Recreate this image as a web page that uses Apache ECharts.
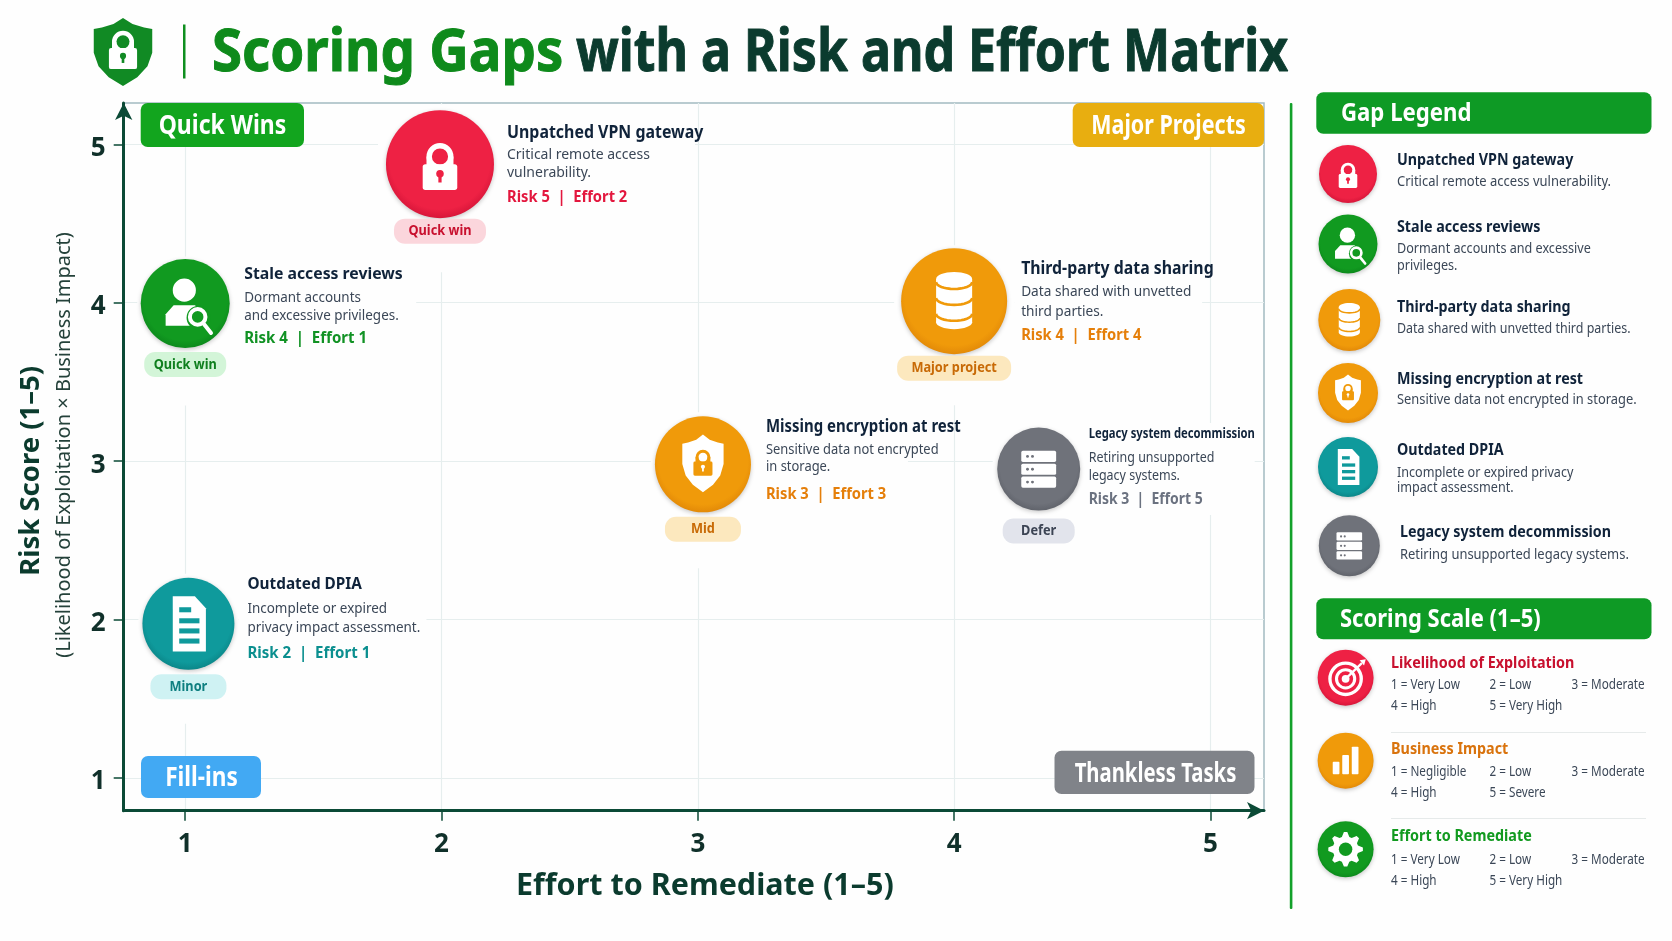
<!DOCTYPE html>
<html><head><meta charset="utf-8"><style>html,body{margin:0;padding:0;background:#fefefe}#c{width:1672px;height:941px}</style>
<script src="https://cdn.jsdelivr.net/npm/echarts@6/dist/echarts.min.js"></script></head>
<body><div id="c"></div>
<script>
// ---------- data ----------
const gapNames = ['Unpatched VPN gateway','Stale access reviews','Third-party data sharing','Missing encryption at rest','Outdated DPIA','Legacy system decommission'];
const chartDesc = [['Critical remote access','vulnerability.'],['Dormant accounts','and excessive privileges.'],['Data shared with unvetted','third parties.'],['Sensitive data not encrypted','in storage.'],['Incomplete or expired','privacy impact assessment.'],['Retiring unsupported','legacy systems.']];
const legendDesc = [['Critical remote access vulnerability.'],['Dormant accounts and excessive','privileges.'],['Data shared with unvetted third parties.'],['Sensitive data not encrypted in storage.'],['Incomplete or expired privacy','impact assessment.'],['Retiring unsupported legacy systems.']];
const riskScores = [5,4,4,3,2,3];
const effortScores = [2,1,4,3,1,5];
const markerEffort = [1.994,1.0,4.0,3.02,1.0125,4.33];   // where each badge sits on the x axis
const markerRisk = [4.875,3.995,4.01,2.98,1.973,2.95];   // where each badge sits on the y axis
const gapTags = ['Quick win','Quick win','Major project','Mid','Minor','Defer'];
const gapIcons = ['lock','user','db','shield','doc','server'];
const axisTicks = [1,2,3,4,5];
const quadrantNames = ['Quick Wins','Major Projects','Fill-ins','Thankless Tasks'];
const scaleNames = ['Likelihood of Exploitation','Business Impact','Effort to Remediate'];
const scaleLevels = [['1 = Very Low','2 = Low','3 = Moderate','4 = High','5 = Very High'],['1 = Negligible','2 = Low','3 = Moderate','4 = High','5 = Severe'],['1 = Very Low','2 = Low','3 = Moderate','4 = High','5 = Very High']];

// ---------- styles ----------
const FF='"Noto Sans"', DARK='#0b3b2e', INK='#10233a', BODY='#3b4757';
const P={red:{m:'#ee2144',e:'#d8163a',t:'#e3173e',pill:'#fbd6dc',pt:'#c8102e'},
 green:{m:'#119a20',e:'#0c8a1c',t:'#119224',pill:'#d3f5d8',pt:'#0f7f1e'},
 orange:{m:'#f09a0a',e:'#e38a08',t:'#e57f0a',pill:'#fce8be',pt:'#c86a06'},
 teal:{m:'#0f9a9c',e:'#0b8789',t:'#0b8f8f',pill:'#cff2f3',pt:'#0e7f80'},
 gray:{m:'#6f727a',e:'#61646c',t:'#6b7280',pill:'#e2e4ec',pt:'#3c4454'}};
const gapPal=[P.red,P.green,P.orange,P.orange,P.teal,P.gray];

function T(text,x,y,size,weight,fill,sx,align,heavy){const st={text:text,fontFamily:FF,fontSize:size,fontWeight:weight||'normal',fill:fill,align:align||'left',verticalAlign:'middle'};
 if(heavy){st.stroke=fill;st.lineWidth=heavy;}
 return {type:'text',x:x,y:y,scaleX:sx||0.8,silent:true,style:st};}
function R(x,y,w,h,fill,rad){return {type:'rect',silent:true,shape:{x:x,y:y,width:w,height:h,r:rad||0},style:{fill:fill}};}
function C(x,y,r,fill){return {type:'circle',silent:true,shape:{cx:x,cy:y,r:r},style:{fill:fill}};}
const shieldPts=[[0,-1],[.28,-.82],[.62,-.72],[.86,-.68],[.86,.02],[.72,.42],[.42,.74],[0,1],[-.42,.74],[-.72,.42],[-.86,.02],[-.86,-.68],[-.62,-.72],[-.28,-.82]];
function poly(pts,k,fill,ox,oy,ky){return {type:'polygon',silent:true,shape:{points:pts.map(p=>[(ox||0)+p[0]*k,(oy||0)+p[1]*(ky||k)])},style:{fill:fill}};}
function lock(k,c,ox,oy,fg){ox=ox||0;oy=oy||0;fg=fg||'#fff';return [
 {type:'ring',silent:true,shape:{cx:ox,cy:oy-.14*k,r:.25*k,r0:.15*k},style:{fill:fg}},
 R(ox-.25*k,oy-.14*k,.1*k,.2*k,fg),R(ox+.15*k,oy-.14*k,.1*k,.2*k,fg),
 R(ox-.32*k,oy+0*k,.64*k,.48*k,fg,.05*k),C(ox,oy+.18*k,.07*k,c),R(ox-.03*k,oy+.18*k,.06*k,.16*k,c)];}
function icon(kind,r,c){
 const W='#fff';
 if(kind==='lock')return lock(r,c);
 if(kind==='user')return [C(-.02*r,-.3*r,.26*r,W),poly([[-.44,.5],[-.44,.24],[-.26,.04],[.22,.04],[.4,.24],[.4,.5]],r,W),
   C(.3*r,.32*r,.27*r,c),{type:'ring',silent:true,shape:{cx:.28*r,cy:.3*r,r:.22*r,r0:.13*r},style:{fill:W}},
   {type:'line',silent:true,shape:{x1:.42*r,y1:.46*r,x2:.58*r,y2:.66*r},style:{stroke:W,lineWidth:.09*r,lineCap:'round'}}];
 if(kind==='db'){const a=.34*r,b=.13*r,o=[R(-a,-.42*r,2*a,.82*r,W),{type:'ellipse',silent:true,shape:{cx:0,cy:.4*r,rx:a,ry:b},style:{fill:W}},{type:'ellipse',silent:true,shape:{cx:0,cy:-.42*r,rx:a,ry:b},style:{fill:W}}];
   [-.36,-.06,.24].forEach(y=>{const pts=[];for(let i=0;i<=16;i++){const t=Math.PI*i/16;pts.push([a*Math.cos(t),y*r+b*Math.sin(t)]);}o.push({type:'polyline',silent:true,shape:{points:pts},style:{stroke:c,fill:'none',lineWidth:Math.max(1.2,.05*r)}});});return o;}
 if(kind==='shield')return [poly(shieldPts,.5*r,W,0,-.02*r,.6*r)].concat(lock(.62*r,W,0,-.06*r,c));
 if(kind==='doc')return [poly([[-.34,-.6],[.14,-.6],[.38,-.34],[.38,.6],[-.34,.6]],r,W)].concat([-.36,-.12,.1,.32].map((y,i)=>R(-.2*r,y*r,(i?.44:.26)*r,.11*r,c)));
 if(kind==='server'){let o=[];[-.44,-.13,.18].forEach(y=>{o.push(R(-.42*r,y*r,.84*r,.27*r,W,.04*r));o.push(C(-.27*r,(y+.135)*r,.035*r,c));o.push(C(-.15*r,(y+.135)*r,.035*r,c));});return o;}
 if(kind==='target')return [{type:'ring',silent:true,shape:{cx:0,cy:.04*r,r:.62*r,r0:.5*r},style:{fill:W}},{type:'ring',silent:true,shape:{cx:0,cy:.04*r,r:.38*r,r0:.27*r},style:{fill:W}},C(0,.04*r,.14*r,W),
   {type:'line',silent:true,shape:{x1:0,y1:.04*r,x2:.58*r,y2:-.52*r},style:{stroke:W,lineWidth:.08*r}},poly([[.5,-.62],[.72,-.66],[.66,-.44]],r,W)];
 if(kind==='bars')return [R(-.46*r,.04*r,.24*r,.44*r,W,.03*r),R(-.12*r,-.2*r,.24*r,.68*r,W,.03*r),R(.22*r,-.5*r,.24*r,.98*r,W,.03*r)];
 if(kind==='gear'){const pts=[],n=8;for(let i=0;i<n*4;i++){const a=(i-.5)*Math.PI*2/(n*4),q=i%4<2?.62:.46;pts.push([Math.cos(a)*q,Math.sin(a)*q]);}return [poly(pts,r,W),C(0,0,.24*r,c)];}
 return [];}
function badge(x,y,r,pal,kind){return {type:'group',x:x,y:y,children:[
 {type:'circle',silent:true,shape:{cx:0,cy:0,r:r},style:{fill:{type:'radial',x:.5,y:.45,r:.55,colorStops:[{offset:0,color:pal.m},{offset:.85,color:pal.m},{offset:1,color:pal.e}]},shadowBlur:4,shadowOffsetY:1.5,shadowColor:'rgba(0,0,0,.22)'}}
 ].concat(icon(kind,r,pal.m))};}

// layout of each chart callout relative to its badge centre
const callout=[
 {r:54,tx:67,ty:-31,dy:[-9,9],my:33,py:67,pw:92,ts:17,sx:.936,dsx:1.0,msx:.95,bx:[60,255,-40,50],kx:[-62,124,-60,94]},
 {r:44.5,tx:59,ty:-29,dy:[-6,12],my:35,py:61,pw:82,ts:16.5,sx:.957,dsx:.96,msx:.97,bx:[48,231,-42,60],kx:[-48,96,-47,88]},
 {r:53,tx:67,ty:-32,dy:[-9,11],my:34,py:67,pw:114,ts:17,sx:.932,dsx:.976,msx:.95,bx:[60,248,-46,46],kx:[-60,120,-56,90]},
 {r:48,tx:63,ty:-37,dy:[-14,3],my:30,py:65,pw:76,ts:17,sx:.88,dsx:.923,msx:.95,bx:[50,205,-46,44],kx:[-52,104,-52,90]},
 {r:46,tx:59,ty:-39,dy:[-15,4],my:30,py:63,pw:76,ts:16.5,sx:.93,dsx:.96,msx:.97,bx:[50,238,-46,44],kx:[-50,100,-50,86]},
 {r:41.5,tx:50,ty:-35,dy:[-11,7],my:31,py:62,pw:72,ts:15,sx:.75,dsx:.89,msx:.9,bx:[44,216,-46,46],kx:[-46,92,-46,84]}
];

function setZ(el,z){el.z=z;if(el.children)el.children.forEach(c=>setZ(c,z));return el;}

function renderGap(params,api){
 const i=api.value(2), c=api.coord([api.value(0),api.value(1)]), L=callout[i], pal=gapPal[i];
 const ch=[];
 ch.push(R(L.bx[0],L.bx[2],L.bx[1]-L.bx[0],L.bx[3]-L.bx[2],'#fefefe'));
 ch.push(R(L.kx[0],L.kx[2],L.kx[1],L.kx[3]-L.kx[2]+14,'#fefefe'));
 ch.push(badge(0,0,L.r,pal,gapIcons[i]));
 ch.push(R(-L.pw/2,L.py-12.5,L.pw,25,pal.pill,11));
 ch.push(T(gapTags[i],0,L.py,14.5,'bold',pal.pt,.88,'center'));
 ch.push(T(gapNames[i],L.tx,L.ty,L.ts,'bold',INK,L.sx));
 chartDesc[i].forEach((s,k)=>ch.push(T(s,L.tx,L.dy[k],14,'normal',BODY,L.dsx)));
 ch.push(T('Risk '+riskScores[i]+'  |  Effort '+effortScores[i],L.tx,L.my,15.5,'bold',pal.t,L.msx));
 return {type:'group',x:c[0],y:c[1],children:ch};
}

// ---------- fixed page furniture ----------
const g=[];
g.push(poly(shieldPts,34,'#118a24',123,52,34));
lock(44,'#118a24',123,48).forEach(e=>g.push(e));
g.push(R(183,24.5,2.5,54,'#0f8f1f'));
g.push(T('Scoring Gaps',212,54,59,'bold','#0e8a1b',.925,'left',1));
g.push(T('with a Risk and Effort Matrix',576,54,59,'bold',DARK,.848,'left',1));
g.push({type:'text',x:64,y:445,rotation:Math.PI/2,silent:true,style:{text:'(Likelihood of Exploitation × Business Impact)',fontFamily:FF,fontSize:20,fill:'#24413a',align:'center',verticalAlign:'middle'}});
[[140.7,103,163.3,44,'#12a51e',222.5,127,.884],[1072.7,103,191.3,44,'#e8ae10',1168.5,127,.826],[141,756,120,42,'#42a9f3',201.5,779,.87],[1054.5,750.7,200,43.3,'#808389',1155.5,774.5,.78]].forEach((q,i)=>{
 g.push(R(q[0],q[1],q[2],q[3],q[4],7));
 g.push(T(quadrantNames[i],q[5],q[6],26,'bold','#fff',q[7],'center'));
});
g.push(R(1289.8,103,2.6,806,'#13a12a',1));
[[92.3,41.4,1341,113.5,'Gap Legend',.888],[598.3,41,1340,619.5,'Scoring Scale (1–5)',.88]].forEach(b=>{
 g.push(R(1316.3,b[0],335.2,b[1],'#0e9a25',7));
 g.push(T(b[4],b[2],b[3],25,'bold','#fff',b[5]));
});
const legendRows=[[1348,174,29,1397,160,[181.7],.928],[1348,244,29.5,1397,227.3,[248.7,265.7],.9],[1349.3,320,31,1397,307.7,[329],.89],[1348,393,30,1397,379,[400],.92],[1348,467,30,1397,450,[472.7,488.5],.9],[1349.3,545.7,30.5,1400,532.3,[555],.925]];
legendRows.forEach((r,i)=>{
 g.push(badge(r[0],r[1],r[2],gapPal[i],gapIcons[i]));
 g.push(T(gapNames[i],r[3],r[4],16.5,'bold',INK,.866));
 r[5].forEach((y,k)=>g.push(T(legendDesc[i][k],r[3],y,14,'normal',BODY,r[6])));
});
const scaleRows=[[677.7,28,663,685,706.3,P.red,'#c8102e','target'],[760.7,28,749.7,772.3,793.3,P.orange,'#d9730d','bars'],[849.3,28,836.7,859.7,880.7,P.green,'#119a1f','gear']];
scaleRows.forEach((r,i)=>{
 g.push(badge(1345.6,r[0],r[1],r[5],r[7]));
 g.push(T(scaleNames[i],1391,r[2],16.5,'bold',r[6],.87));
 const cx=[1391,1489.5,1571.6,1391,1489.5];
 scaleLevels[i].forEach((s,k)=>g.push(T(s,cx[k],k<3?r[3]:r[4],13.5,'normal',BODY,.867)));
});
[732,818].forEach(y=>g.push(R(1391,y,255,1,'#e6eaea')));
g.forEach(e=>setZ(e,5));

const axisCommon={type:'value',interval:1,
 axisLine:{show:true,onZero:false,symbol:['none','arrow'],symbolSize:[13,17],lineStyle:{color:'#0b4a36',width:3}},
 axisTick:{show:true,length:10,customValues:axisTicks,lineStyle:{color:'#0b4a36',width:1.5}},
 splitLine:{show:true,lineStyle:{color:'#e6eeee',width:1.2}}};
const labelBase={customValues:axisTicks,fontFamily:FF,fontWeight:'bold',fontSize:26,color:'#10302a'};

const chart=echarts.init(document.getElementById('c'),null,{renderer:'canvas'});
chart.setOption({
 backgroundColor:'#fefefe',animation:false,
 grid:{left:123.7,top:103,width:1140.3,height:707.7,show:true,outerBoundsMode:'none',borderColor:'#a3bac1',borderWidth:1.5,backgroundColor:'transparent'},
 xAxis:Object.assign({},axisCommon,{min:0.76,max:5.209,name:'Effort to Remediate (1–5)',nameLocation:'middle',nameGap:60,
  axisLabel:Object.assign({},labelBase,{margin:21}),
  nameTextStyle:{fontFamily:FF,fontWeight:'bold',fontSize:30.5,color:DARK,padding:[0,0,0,22]}}),
 yAxis:Object.assign({},axisCommon,{min:0.793,max:5.261,name:'Risk Score (1–5)',nameLocation:'middle',nameGap:79,
  axisLabel:Object.assign({},labelBase,{margin:18,formatter:'{n|{value}}',rich:{n:{fontFamily:FF,fontWeight:'bold',fontSize:26,color:'#10302a',padding:[8,0,0,0]}}}),
  nameTextStyle:{fontFamily:FF,fontWeight:'bold',fontSize:27.5,color:DARK,padding:[0,28,0,0]}}),
 graphic:{elements:g},
 series:[{type:'custom',coordinateSystem:'cartesian2d',clip:false,silent:true,
  data:markerEffort.map((x,i)=>[x,markerRisk[i],i]),encode:{x:0,y:1},renderItem:renderGap,z:3}]
});
</script></body></html>
